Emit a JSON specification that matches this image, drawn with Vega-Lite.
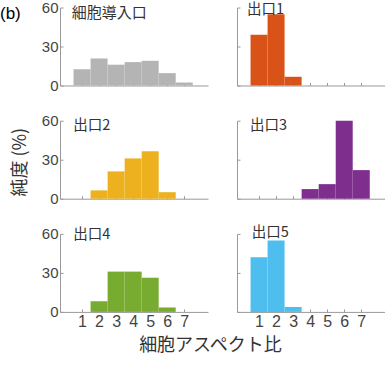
{
  "$schema": "https://vega.github.io/schema/vega-lite/v6.json",
  "padding": {"left": 0, "top": 0.5, "right": 0, "bottom": 0},
  "background": "white",
  "bounds": "flush",
  "columns": 2,
  "spacing": {"row": 35.2, "column": 29},
  "config": {
    "view": {"stroke": null},
    "axis": {"grid": false, "domainColor": "#999", "tickColor": "#999", "tickSize": -3, "tickCount": 20, "labelColor": "#444", "labelFont": "Liberation Sans", "labelOverlap": false, "labelFlush": false},
    "text": {"font": "Noto Sans CJK JP"}
  },
  "datasets": {
    "bars": [
      {"group": "細胞導入口", "ratio": 1, "purity": 12.5},
      {"group": "細胞導入口", "ratio": 2, "purity": 20.8},
      {"group": "細胞導入口", "ratio": 3, "purity": 16},
      {"group": "細胞導入口", "ratio": 4, "purity": 18},
      {"group": "細胞導入口", "ratio": 5, "purity": 19},
      {"group": "細胞導入口", "ratio": 6, "purity": 9.5},
      {"group": "細胞導入口", "ratio": 7, "purity": 2.3},
      {"group": "出口1", "ratio": 1, "purity": 39},
      {"group": "出口1", "ratio": 2, "purity": 54.8},
      {"group": "出口1", "ratio": 3, "purity": 6.7},
      {"group": "出口2", "ratio": 2, "purity": 6.4},
      {"group": "出口2", "ratio": 3, "purity": 21},
      {"group": "出口2", "ratio": 4, "purity": 31},
      {"group": "出口2", "ratio": 5, "purity": 36.5},
      {"group": "出口2", "ratio": 6, "purity": 5},
      {"group": "出口3", "ratio": 4, "purity": 7.4},
      {"group": "出口3", "ratio": 5, "purity": 11.2},
      {"group": "出口3", "ratio": 6, "purity": 60},
      {"group": "出口3", "ratio": 7, "purity": 22},
      {"group": "出口4", "ratio": 2, "purity": 8.2},
      {"group": "出口4", "ratio": 3, "purity": 31},
      {"group": "出口4", "ratio": 4, "purity": 31},
      {"group": "出口4", "ratio": 5, "purity": 26.3},
      {"group": "出口4", "ratio": 6, "purity": 3.4},
      {"group": "出口5", "ratio": 1, "purity": 42},
      {"group": "出口5", "ratio": 2, "purity": 55},
      {"group": "出口5", "ratio": 3, "purity": 3.8}
    ],
    "labels": [
      {"group": "細胞導入口"},
      {"group": "出口1"},
      {"group": "出口2"},
      {"group": "出口3"},
      {"group": "出口4"},
      {"group": "出口5"}
    ]
  },
  "concat": [
    {
      "width": 148, "height": 78,
      "title": {"text": "(b)", "anchor": "start", "frame": "group", "dx": -60, "offset": -22, "fontSize": 17, "fontWeight": "normal", "font": "Liberation Sans", "color": "#000"},
      "layer": [
        {
          "data": {"name": "bars"},
          "transform": [{"filter": "datum.group === '細胞導入口'"}],
          "mark": {"type": "bar", "size": 17, "color": "#b4b4b4"},
          "encoding": {
            "x": {"field": "ratio", "type": "quantitative", "scale": {"domain": [0, 8.1], "nice": false}, "axis": {"values": [1,2,3,4,5,6,7], "tickCount": 20, "format": "d", "labels": false, "title": null}},
            "y": {"field": "purity", "type": "quantitative", "scale": {"domain": [0, 60], "nice": false}, "axis": {"values": [0,30,60], "tickCount": 20, "format": "d", "title": null, "labelFontSize": 15, "labelPadding": 5}}
          }
        },
        {
          "data": {"name": "labels"},
          "transform": [{"filter": "datum.group === '細胞導入口'"}],
          "mark": {"type": "text", "align": "left", "baseline": "middle", "fontSize": 15, "color": "#333"},
          "encoding": {
            "x": {"datum": 0.4, "type": "quantitative"},
            "y": {"datum": 55.4, "type": "quantitative"},
            "text": {"field": "group"}
          }
        }
      ]
    },
    {
      "width": 148, "height": 78,
      "layer": [
        {
          "data": {"name": "bars"},
          "transform": [{"filter": "datum.group === '出口1'"}],
          "mark": {"type": "bar", "size": 17, "color": "#d95319"},
          "encoding": {
            "x": {"field": "ratio", "type": "quantitative", "scale": {"domain": [0, 8.1], "nice": false}, "axis": {"values": [1,2,3,4,5,6,7], "tickCount": 20, "format": "d", "labels": false, "title": null}},
            "y": {"field": "purity", "type": "quantitative", "scale": {"domain": [0, 60], "nice": false}, "axis": {"values": [0,30,60], "tickCount": 20, "format": "d", "title": null, "labels": false}}
          }
        },
        {
          "data": {"name": "labels"},
          "transform": [{"filter": "datum.group === '出口1'"}],
          "mark": {"type": "text", "align": "left", "baseline": "middle", "fontSize": 14.5, "color": "#333"},
          "encoding": {
            "x": {"datum": 0.3, "type": "quantitative"},
            "y": {"datum": 58, "type": "quantitative"},
            "text": {"field": "group"}
          }
        }
      ]
    },
    {
      "width": 148, "height": 78,
      "layer": [
        {
          "data": {"name": "bars"},
          "transform": [{"filter": "datum.group === '出口2'"}],
          "mark": {"type": "bar", "size": 17, "color": "#edb120"},
          "encoding": {
            "x": {"field": "ratio", "type": "quantitative", "scale": {"domain": [0, 8.1], "nice": false}, "axis": {"values": [1,2,3,4,5,6,7], "tickCount": 20, "format": "d", "labels": false, "title": null}},
            "y": {"field": "purity", "type": "quantitative", "scale": {"domain": [0, 60], "nice": false}, "axis": {"values": [0,30,60], "tickCount": 20, "format": "d", "title": "純度 (%)", "labelFontSize": 15, "labelPadding": 5, "titleFont": "Noto Sans CJK JP", "titleFontSize": 18, "titleFontWeight": "normal", "titleColor": "#333", "titleX": -40, "titleY": 41, "titleBaseline": "middle", "titleAlign": "center", "titleAngle": -90}}
          }
        },
        {
          "data": {"name": "labels"},
          "transform": [{"filter": "datum.group === '出口2'"}],
          "mark": {"type": "text", "align": "left", "baseline": "middle", "fontSize": 14.5, "color": "#333"},
          "encoding": {
            "x": {"datum": 0.48, "type": "quantitative"},
            "y": {"datum": 56.2, "type": "quantitative"},
            "text": {"field": "group"}
          }
        }
      ]
    },
    {
      "width": 148, "height": 78,
      "layer": [
        {
          "data": {"name": "bars"},
          "transform": [{"filter": "datum.group === '出口3'"}],
          "mark": {"type": "bar", "size": 17, "color": "#7e2f8e"},
          "encoding": {
            "x": {"field": "ratio", "type": "quantitative", "scale": {"domain": [0, 8.1], "nice": false}, "axis": {"values": [1,2,3,4,5,6,7], "tickCount": 20, "format": "d", "labels": false, "title": null}},
            "y": {"field": "purity", "type": "quantitative", "scale": {"domain": [0, 60], "nice": false}, "axis": {"values": [0,30,60], "tickCount": 20, "format": "d", "title": null, "labels": false}}
          }
        },
        {
          "data": {"name": "labels"},
          "transform": [{"filter": "datum.group === '出口3'"}],
          "mark": {"type": "text", "align": "left", "baseline": "middle", "fontSize": 14.5, "color": "#333"},
          "encoding": {
            "x": {"datum": 0.47, "type": "quantitative"},
            "y": {"datum": 56, "type": "quantitative"},
            "text": {"field": "group"}
          }
        }
      ]
    },
    {
      "width": 148, "height": 78,
      "layer": [
        {
          "data": {"name": "bars"},
          "transform": [{"filter": "datum.group === '出口4'"}],
          "mark": {"type": "bar", "size": 17, "color": "#77ac30"},
          "encoding": {
            "x": {"field": "ratio", "type": "quantitative", "scale": {"domain": [0, 8.1], "nice": false}, "axis": {"values": [1,2,3,4,5,6,7], "tickCount": 20, "format": "d", "title": "細胞アスペクト比", "labelFontSize": 16, "labelPadding": 5, "titleFont": "Noto Sans CJK JP", "titleFontSize": 18, "titleFontWeight": "normal", "titleColor": "#333", "titleX": 150, "titleY": 25, "titleBaseline": "top", "titleAlign": "center"}},
            "y": {"field": "purity", "type": "quantitative", "scale": {"domain": [0, 60], "nice": false}, "axis": {"values": [0,30,60], "tickCount": 20, "format": "d", "title": null, "labelFontSize": 15, "labelPadding": 5}}
          }
        },
        {
          "data": {"name": "labels"},
          "transform": [{"filter": "datum.group === '出口4'"}],
          "mark": {"type": "text", "align": "left", "baseline": "middle", "fontSize": 14.5, "color": "#333"},
          "encoding": {
            "x": {"datum": 0.48, "type": "quantitative"},
            "y": {"datum": 59.5, "type": "quantitative"},
            "text": {"field": "group"}
          }
        }
      ]
    },
    {
      "width": 148, "height": 78,
      "layer": [
        {
          "data": {"name": "bars"},
          "transform": [{"filter": "datum.group === '出口5'"}],
          "mark": {"type": "bar", "size": 17, "color": "#4dbeee"},
          "encoding": {
            "x": {"field": "ratio", "type": "quantitative", "scale": {"domain": [0, 8.1], "nice": false}, "axis": {"values": [1,2,3,4,5,6,7], "tickCount": 20, "format": "d", "title": null, "labelFontSize": 16, "labelPadding": 5}},
            "y": {"field": "purity", "type": "quantitative", "scale": {"domain": [0, 60], "nice": false}, "axis": {"values": [0,30,60], "tickCount": 20, "format": "d", "title": null, "labels": false}}
          }
        },
        {
          "data": {"name": "labels"},
          "transform": [{"filter": "datum.group === '出口5'"}],
          "mark": {"type": "text", "align": "left", "baseline": "middle", "fontSize": 14.5, "color": "#333"},
          "encoding": {
            "x": {"datum": 0.57, "type": "quantitative"},
            "y": {"datum": 60.5, "type": "quantitative"},
            "text": {"field": "group"}
          }
        }
      ]
    }
  ]
}
